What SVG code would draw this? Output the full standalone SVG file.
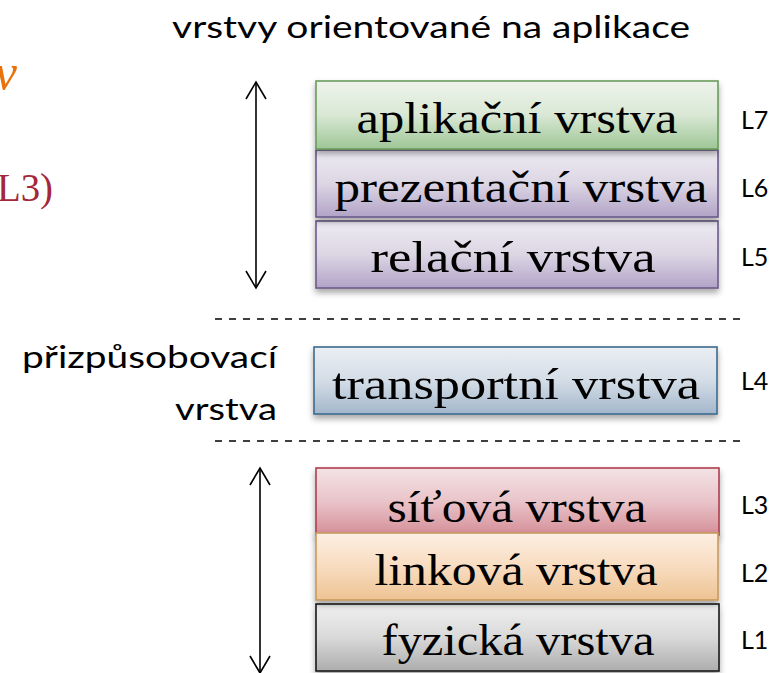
<svg xmlns="http://www.w3.org/2000/svg" width="778" height="673" viewBox="0 0 778 673">
  <style>
    .box { stroke-width: 1.6; }
    .lbl { font-family: "Liberation Serif", "DejaVu Serif", serif; font-size: 45px; fill: #000; text-anchor: middle; }
    .sans { font-family: Lato, "Open Sans", "Liberation Sans", sans-serif; fill: #000; }
    .num { font-family: Lato, "Open Sans", "Liberation Sans", sans-serif; font-size: 25px; fill: #000; }
    .dash { stroke: #000; stroke-width: 1.6; stroke-dasharray: 7 7; fill: none; }
    .arr { stroke: #000; stroke-width: 1.6; fill: none; }
  </style>
  <defs>
    <filter id="shadow" x="-5%" y="-20%" width="110%" height="150%">
      <feDropShadow dx="0" dy="4" stdDeviation="3" flood-color="#000" flood-opacity="0.35"/>
    </filter>
    <linearGradient id="gGreen" x1="0" y1="0" x2="0" y2="1">
      <stop offset="0" stop-color="#eef3ec"/>
      <stop offset="0.5" stop-color="#d9e8d4"/>
      <stop offset="1" stop-color="#9ec696"/>
    </linearGradient>
    <linearGradient id="gPurple" x1="0" y1="0" x2="0" y2="1">
      <stop offset="0" stop-color="#eeebf2"/>
      <stop offset="0.5" stop-color="#dcd6e4"/>
      <stop offset="1" stop-color="#b2a3c7"/>
    </linearGradient>
    <linearGradient id="gBlue" x1="0" y1="0" x2="0" y2="1">
      <stop offset="0" stop-color="#eaeef3"/>
      <stop offset="0.5" stop-color="#d4dde7"/>
      <stop offset="1" stop-color="#a3b6cb"/>
    </linearGradient>
    <linearGradient id="gRed" x1="0" y1="0" x2="0" y2="1">
      <stop offset="0" stop-color="#f3e3e5"/>
      <stop offset="0.5" stop-color="#e9c4c9"/>
      <stop offset="1" stop-color="#d58e98"/>
    </linearGradient>
    <linearGradient id="gOrange" x1="0" y1="0" x2="0" y2="1">
      <stop offset="0" stop-color="#fcefe2"/>
      <stop offset="0.5" stop-color="#f8dcc0"/>
      <stop offset="1" stop-color="#eec393"/>
    </linearGradient>
    <linearGradient id="gGray" x1="0" y1="0" x2="0" y2="1">
      <stop offset="0" stop-color="#f0f0f0"/>
      <stop offset="0.5" stop-color="#d9d9d9"/>
      <stop offset="1" stop-color="#adadad"/>
    </linearGradient>
  </defs>

  <rect width="778" height="673" fill="#ffffff"/>

  <!-- fragments at the left edge -->
  <text x="17" y="89" font-family="Liberation Serif, serif" font-style="italic" font-size="50" fill="#e8730c" text-anchor="end">v</text>
  <text x="-3" y="201" font-family="Liberation Serif, serif" font-size="40" fill="#a3283c" textLength="56" lengthAdjust="spacingAndGlyphs">L3)</text>

  <!-- headings -->
  <text class="sans" x="431" y="38" font-size="31" text-anchor="middle" textLength="518" lengthAdjust="spacingAndGlyphs">vrstvy orientované na aplikace</text>
  <g id="adapt-label">
    <text class="sans" x="277" y="368" font-size="30" text-anchor="end" textLength="255" lengthAdjust="spacingAndGlyphs">přizpůsobovací</text>
    <text class="sans" x="277" y="420" font-size="30" text-anchor="end" textLength="102" lengthAdjust="spacingAndGlyphs">vrstva</text>
  </g>

  <!-- connectors: range arrows and separators -->
  <g id="connectors">
    <line class="arr" x1="256" y1="82" x2="256" y2="288"/>
    <polyline class="arr" points="246,99 256,82 266,99"/>
    <polyline class="arr" points="246,271 256,288 266,271"/>
    <line class="arr" x1="260" y1="468" x2="260" y2="673"/>
    <polyline class="arr" points="250,485 260,468 270,485"/>
    <polyline class="arr" points="250,656 260,673 270,656"/>
    <line class="dash" x1="215" y1="319" x2="742" y2="319"/>
    <line class="dash" x1="215" y1="441" x2="742" y2="441"/>
  </g>

  <!-- layer stack -->
  <g id="L5">
    <rect class="box" x="316" y="221" width="402" height="67" fill="url(#gPurple)" stroke="#6b5a8a" filter="url(#shadow)"/>
    <text class="lbl" x="513" y="272" textLength="285" lengthAdjust="spacingAndGlyphs">relační vrstva</text>
    <text class="num" x="741" y="266">L5</text>
  </g>
  <g id="L6">
    <rect class="box" x="316" y="150" width="402" height="67" fill="url(#gPurple)" stroke="#6b5a8a" filter="url(#shadow)"/>
    <text class="lbl" x="521" y="202" textLength="373" lengthAdjust="spacingAndGlyphs">prezentační vrstva</text>
    <text class="num" x="741" y="197">L6</text>
  </g>
  <g id="L7">
    <rect class="box" x="316" y="81" width="402" height="68" fill="url(#gGreen)" stroke="#6a9b5d" filter="url(#shadow)"/>
    <text class="lbl" x="517" y="133" textLength="321" lengthAdjust="spacingAndGlyphs">aplikační vrstva</text>
    <text class="num" x="741" y="129">L7</text>
  </g>
  <g id="L4">
    <rect class="box" x="314" y="347" width="403" height="67" fill="url(#gBlue)" stroke="#3c6b8e" filter="url(#shadow)"/>
    <text class="lbl" x="516" y="399" textLength="368" lengthAdjust="spacingAndGlyphs">transportní vrstva</text>
    <text class="num" x="741" y="390">L4</text>
  </g>
  <g id="L1">
    <rect class="box" x="316" y="604" width="403" height="67" fill="url(#gGray)" stroke="#1a1a1a" filter="url(#shadow)"/>
    <text class="lbl" x="518" y="655" textLength="273" lengthAdjust="spacingAndGlyphs">fyzická vrstva</text>
    <text class="num" x="741" y="649">L1</text>
  </g>
  <g id="L3">
    <rect class="box" x="316" y="468" width="403" height="67" fill="url(#gRed)" stroke="#ae3e4e" filter="url(#shadow)"/>
    <text class="lbl" x="517" y="522" textLength="259" lengthAdjust="spacingAndGlyphs">síťová vrstva</text>
    <text class="num" x="741" y="514">L3</text>
  </g>
  <g id="L2">
    <rect class="box" x="316" y="533" width="402" height="67" fill="url(#gOrange)" stroke="#c99a5e" filter="url(#shadow)"/>
    <text class="lbl" x="516" y="585" textLength="283" lengthAdjust="spacingAndGlyphs">linková vrstva</text>
    <text class="num" x="741" y="582">L2</text>
  </g>
</svg>
